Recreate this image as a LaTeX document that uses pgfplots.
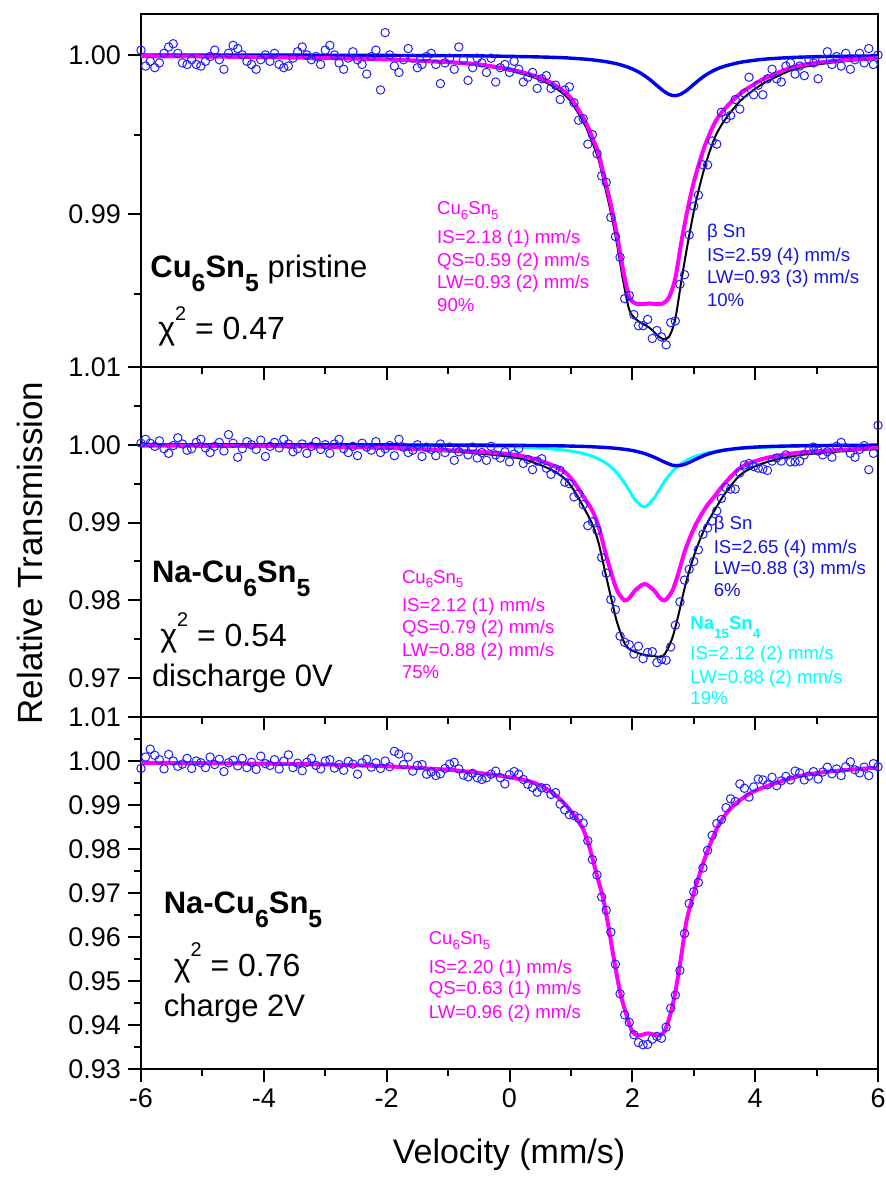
\documentclass[border=0pt]{standalone}
\usepackage{fontspec}
\setmainfont{Liberation Sans}
\usepackage{graphicx}
\usepackage{pgfplots}
\pgfplotsset{compat=1.18}

\definecolor{mag}{RGB}{255,0,255}
\definecolor{bln}{RGB}{0,0,235}
\definecolor{cyn}{RGB}{0,255,255}
\definecolor{pts}{RGB}{30,30,255}
\definecolor{btx}{RGB}{20,20,230}

% lowered / raised small figures for formulas
\newcommand{\dn}[2][0.3em]{\raisebox{-#1}{\scalebox{0.72}{#2}}}
\newcommand{\bdn}[1]{\raisebox{-0.45em}{\scalebox{0.8}{#1}}}
\newcommand{\up}[1]{\raisebox{0.62em}{\scalebox{0.62}{#1}}}

\pgfplotsset{
  panel/.style={
    scale only axis, width=368.5pt,
    xmin=-6, xmax=6,
    xtick={-6,-4,-2,0,2,4,6}, minor xtick={-5,-3,-1,1,3,5},
    tick align=outside, xtick pos=left, ytick pos=left,
    major tick length=6.5pt, minor tick length=3.5pt,
    axis line style={line width=1.2pt},
    tick style={black, line width=1pt},
    tick label style={font=\fontsize{13.5}{16}\selectfont},
    /pgf/number format/assume math mode=true,
    yticklabel style={/pgf/number format/fixed,
      /pgf/number format/fixed zerofill, /pgf/number format/precision=2},
  },
  dat/.style={only marks, mark=o, mark size=2.1pt, color=pts, line width=0.5pt},
}

\begin{document}
\begin{tikzpicture}[ann/.style={anchor=base west, inner sep=0pt, font=\fontsize{9.3}{11}\selectfont},
  big/.style={anchor=base west, inner sep=0pt, font=\fontsize{15.5}{18}\selectfont},
  chi/.style={anchor=base west, inner sep=0pt, font=\fontsize{16}{19}\selectfont}]

% ---------------- panel 1: pristine ----------------
\begin{axis}[panel, at={(0,351pt)}, anchor=south west, height=176.5pt,
  ymin=0.98041, ymax=1.00257, ytick={0.99,1.00}, minor ytick={0.985,0.995},
  xticklabels={}]
\addplot[dat] coordinates {
(-6,1.0003) (-5.925,0.9993) (-5.85,0.9996) (-5.775,0.9992) (-5.7,0.9995) (-5.625,1.0001) (-5.55,1.0005) (-5.475,1.0007)
(-5.4,1.0001) (-5.325,0.9995) (-5.25,0.9994) (-5.175,0.9997) (-5.1,0.9994) (-5.025,0.9993) (-4.95,0.9996) (-4.875,0.9999)
(-4.8,1.0003) (-4.725,0.9997) (-4.65,0.9991) (-4.575,1.0001) (-4.5,1.0006) (-4.425,1.0004) (-4.35,1.0000) (-4.275,0.9996)
(-4.2,0.9994) (-4.125,0.9991) (-4.05,0.9997) (-3.975,1.0000) (-3.9,0.9996) (-3.825,1.0001) (-3.75,0.9994) (-3.675,0.9992)
(-3.6,0.9993) (-3.525,0.9998) (-3.45,1.0002) (-3.375,1.0005) (-3.3,1.0000) (-3.225,0.9997) (-3.15,0.9999) (-3.075,0.9994)
(-3,1.0003) (-2.925,1.0006) (-2.85,1.0000) (-2.775,0.9995) (-2.7,0.9991) (-2.625,0.9998) (-2.55,1.0002) (-2.475,0.9997)
(-2.4,0.9994) (-2.325,0.9988) (-2.25,0.9999) (-2.175,1.0003) (-2.1,0.9978) (-2.025,1.0014) (-1.95,1.0000) (-1.875,0.9993)
(-1.8,0.9989) (-1.725,0.9997) (-1.65,1.0004) (-1.575,0.9998) (-1.5,0.9992) (-1.425,0.9994) (-1.35,0.9999) (-1.275,1.0001)
(-1.2,0.9994) (-1.125,0.9982) (-1.05,0.9995) (-0.975,0.9998) (-0.9,0.9991) (-0.825,1.0005) (-0.75,0.9997) (-0.675,0.9984)
(-0.6,0.9992) (-0.525,0.9998) (-0.45,0.9995) (-0.375,0.9989) (-0.3,0.9998) (-0.225,0.9983) (-0.15,0.9992) (-0.075,0.9994)
(0,0.9989) (0.075,0.9996) (0.15,0.9991) (0.225,0.9983) (0.3,0.9986) (0.375,0.9989) (0.45,0.9979) (0.525,0.9985)
(0.6,0.9987) (0.675,0.9979) (0.75,0.9981) (0.825,0.9972) (0.9,0.9978) (0.975,0.9980) (1.05,0.9970) (1.125,0.9959)
(1.2,0.9960) (1.275,0.9944) (1.35,0.9950) (1.425,0.9938) (1.5,0.9924) (1.575,0.9920) (1.65,0.9898) (1.725,0.9886)
(1.8,0.9873) (1.875,0.9847) (1.95,0.9849) (2.025,0.9837) (2.1,0.9830) (2.175,0.9830) (2.25,0.9834) (2.325,0.9822)
(2.4,0.9827) (2.475,0.9823) (2.55,0.9818) (2.625,0.9832) (2.7,0.9833) (2.775,0.9856) (2.85,0.9862) (2.925,0.9887)
(3,0.9905) (3.075,0.9912) (3.15,0.9931) (3.225,0.9931) (3.3,0.9946) (3.375,0.9944) (3.45,0.9964) (3.525,0.9960)
(3.6,0.9962) (3.675,0.9972) (3.75,0.9966) (3.825,0.9976) (3.9,0.9986) (3.975,0.9975) (4.05,0.9981) (4.125,0.9975)
(4.2,0.9985) (4.275,0.9991) (4.35,0.9985) (4.425,0.9983) (4.5,0.9993) (4.575,0.9995) (4.65,0.9988) (4.725,0.9993)
(4.8,0.9987) (4.875,0.9997) (4.95,0.9995) (5.025,0.9985) (5.1,0.9997) (5.175,1.0002) (5.25,0.9994) (5.325,0.9999)
(5.4,0.9993) (5.475,1.0001) (5.55,0.9991) (5.625,0.9997) (5.7,1.0001) (5.775,0.9995) (5.85,1.0004) (5.925,0.9994)
(6,1.0000)};
% total fit
\addplot[black, line width=1pt, smooth, tension=0.5] coordinates {
(-6,0.99991) (-5,0.99989) (-4,0.99985) (-3,0.99978) (-2,0.99969) (-1,0.99950) (-0.5,0.99934) (0,0.99901)
(0.4,0.99858) (0.7,0.99805) (0.95,0.99730) (1.1,0.99647) (1.25,0.99543) (1.35,0.99449) (1.45,0.99344) (1.55,0.99179)
(1.65,0.99012) (1.75,0.98814) (1.85,0.98583) (1.95,0.98400) (2.05,0.98343) (2.15,0.98317) (2.28,0.98287) (2.4,0.98243)
(2.5,0.98216) (2.6,0.98232) (2.7,0.98344) (2.8,0.98586) (2.9,0.98812) (3,0.99015) (3.1,0.99182) (3.2,0.99325)
(3.35,0.99487) (3.5,0.99589) (3.75,0.99708) (4,0.99787) (4.2,0.99835) (4.6,0.99906) (5,0.99939) (5.5,0.99962) (6,0.99974)};
% beta Sn
\addplot[bln, line width=1.7pt, smooth, tension=0.5] coordinates {
(-6,0.99999) (-5,0.99999) (-4,0.99999) (-3,0.99998) (-2,0.99997) (-1,0.99995) (-0.5,0.99994) (0,0.99991)
(0.4,0.99988) (0.7,0.99985) (0.95,0.99981) (1.1,0.99977) (1.25,0.99973) (1.35,0.99969) (1.45,0.99964) (1.55,0.99959)
(1.65,0.99952) (1.75,0.99944) (1.85,0.99933) (1.95,0.99920) (2.05,0.99903) (2.15,0.99882) (2.28,0.99847) (2.4,0.99808)
(2.5,0.99776) (2.6,0.99752) (2.7,0.99744) (2.8,0.99756) (2.9,0.99782) (3,0.99815) (3.1,0.99847) (3.2,0.99875)
(3.35,0.99907) (3.5,0.99929) (3.75,0.99953) (4,0.99967) (4.2,0.99975) (4.6,0.99984) (5,0.99989) (5.5,0.99992) (6,0.99994)};
% Cu6Sn5
\addplot[mag, line width=2pt, smooth, tension=0.5] coordinates {
(-6,0.99992) (-5,0.99990) (-4,0.99986) (-3,0.99980) (-2,0.99972) (-1,0.99955) (-0.5,0.99940) (0,0.99910)
(0.4,0.99870) (0.7,0.99820) (0.95,0.99750) (1.1,0.99670) (1.25,0.99570) (1.35,0.99480) (1.45,0.99380) (1.55,0.99220)
(1.65,0.99060) (1.75,0.98870) (1.85,0.98650) (1.95,0.98480) (2.05,0.98440) (2.15,0.98435) (2.28,0.98440) (2.4,0.98435)
(2.5,0.98440) (2.6,0.98480) (2.7,0.98600) (2.8,0.98830) (2.9,0.99030) (3,0.99200) (3.1,0.99335) (3.2,0.99450)
(3.35,0.99580) (3.5,0.99660) (3.75,0.99755) (4,0.99820) (4.2,0.99860) (4.6,0.99922) (5,0.99950) (5.5,0.99970) (6,0.99980)};
\end{axis}

% ---------------- panel 2: discharge 0 V ----------------
\begin{axis}[panel, at={(0,176pt)}, anchor=south west, height=175pt,
  ymin=0.965, ymax=1.01, ytick={0.97,0.98,0.99,1.00,1.01},
  minor ytick={0.975,0.985,0.995,1.005}, xticklabels={}]
\addplot[dat] coordinates {
(-6,1.0002) (-5.925,1.0007) (-5.85,1.0002) (-5.775,0.9998) (-5.7,1.0005) (-5.625,0.9995) (-5.55,0.9989) (-5.475,0.9999)
(-5.4,1.0009) (-5.325,1.0001) (-5.25,0.9993) (-5.175,0.9995) (-5.1,1.0003) (-5.025,1.0007) (-4.95,0.9996) (-4.875,0.9990)
(-4.8,0.9998) (-4.725,1.0003) (-4.65,0.9992) (-4.575,1.0013) (-4.5,1.0002) (-4.425,0.9984) (-4.35,0.9995) (-4.275,1.0004)
(-4.2,1.0000) (-4.125,0.9994) (-4.05,1.0006) (-3.975,0.9985) (-3.9,0.9998) (-3.825,1.0003) (-3.75,0.9996) (-3.675,1.0007)
(-3.6,1.0001) (-3.525,0.9991) (-3.45,0.9995) (-3.375,1.0001) (-3.3,0.9989) (-3.225,0.9998) (-3.15,1.0004) (-3.075,0.9994)
(-3,1.0000) (-2.925,0.9989) (-2.85,1.0001) (-2.775,1.0007) (-2.7,0.9995) (-2.625,0.9990) (-2.55,0.9998) (-2.475,0.9986)
(-2.4,1.0002) (-2.325,0.9997) (-2.25,0.9993) (-2.175,1.0004) (-2.1,0.9990) (-2.025,0.9995) (-1.95,0.9999) (-1.875,0.9986)
(-1.8,1.0007) (-1.725,0.9997) (-1.65,0.9990) (-1.575,0.9993) (-1.5,1.0000) (-1.425,0.9985) (-1.35,0.9997) (-1.275,0.9994)
(-1.2,0.9986) (-1.125,1.0001) (-1.05,0.9990) (-0.975,0.9997) (-0.9,0.9980) (-0.825,0.9991) (-0.75,0.9995) (-0.675,0.9987)
(-0.6,0.9997) (-0.525,0.9983) (-0.45,0.9990) (-0.375,0.9980) (-0.3,0.9998) (-0.225,0.9987) (-0.15,0.9983) (-0.075,0.9991)
(0,0.9978) (0.075,0.9988) (0.15,0.9995) (0.225,0.9976) (0.3,0.9981) (0.375,0.9968) (0.45,0.9979) (0.525,0.9982)
(0.6,0.9970) (0.675,0.9962) (0.75,0.9969) (0.825,0.9967) (0.9,0.9952) (0.975,0.9950) (1.05,0.9933) (1.125,0.9937)
(1.2,0.9923) (1.275,0.9896) (1.35,0.9901) (1.425,0.9890) (1.5,0.9855) (1.575,0.9835) (1.65,0.9801) (1.725,0.9788)
(1.8,0.9754) (1.875,0.9746) (1.95,0.9743) (2.025,0.9731) (2.1,0.9741) (2.175,0.9725) (2.25,0.9733) (2.325,0.9734)
(2.4,0.9720) (2.475,0.9724) (2.55,0.9723) (2.625,0.9740) (2.7,0.9768) (2.775,0.9798) (2.85,0.9826) (2.925,0.9840)
(3,0.9850) (3.075,0.9865) (3.15,0.9885) (3.225,0.9893) (3.3,0.9902) (3.375,0.9915) (3.45,0.9931) (3.525,0.9945)
(3.6,0.9943) (3.675,0.9943) (3.75,0.9964) (3.825,0.9974) (3.9,0.9976) (3.975,0.9972) (4.05,0.9970) (4.125,0.9969)
(4.2,0.9967) (4.275,0.9979) (4.35,0.9983) (4.425,0.9979) (4.5,0.9987) (4.575,0.9978) (4.65,0.9978) (4.725,0.9979)
(4.8,0.9987) (4.875,0.9993) (4.95,0.9997) (5.025,0.9992) (5.1,0.9987) (5.175,0.9991) (5.25,0.9984) (5.325,0.9998)
(5.4,1.0003) (5.475,0.9996) (5.55,0.9989) (5.625,0.9984) (5.7,0.9994) (5.775,0.9999) (5.85,0.9968) (5.925,0.9989)
(6,1.0025)};
\addplot[black, line width=1pt, smooth, tension=0.5] coordinates {
(-6,0.99987) (-5,0.99984) (-4,0.99978) (-3,0.99969) (-2,0.99950) (-1,0.99914) (-0.5,0.99888) (0,0.99847)
(0.3,0.99797) (0.66,0.99687) (0.9,0.99564) (1.05,0.99414) (1.2,0.99206) (1.35,0.98976) (1.45,0.98739) (1.55,0.98391)
(1.65,0.98047) (1.75,0.97721) (1.87,0.97454) (1.95,0.97374) (2.05,0.97335) (2.2,0.97297) (2.35,0.97283) (2.45,0.97273)
(2.53,0.97310) (2.65,0.97514) (2.75,0.97810) (2.85,0.98153) (2.95,0.98439) (3.05,0.98678) (3.2,0.98962) (3.32,0.99132)
(3.5,0.99363) (3.75,0.99607) (4,0.99723) (4.3,0.99802) (4.73,0.99868) (5.3,0.99909) (6,0.99946)};
% Na15Sn4
\addplot[cyn, line width=1.5pt, smooth, tension=0.5] coordinates {
(-6,0.99998) (-5,0.99998) (-4,0.99997) (-3,0.99995) (-2,0.99993) (-1,0.99988) (-0.5,0.99983) (0,0.99974)
(0.3,0.99966) (0.66,0.99949) (0.9,0.99930) (1.05,0.99912) (1.2,0.99888) (1.35,0.99852) (1.45,0.99819) (1.55,0.99775)
(1.65,0.99717) (1.75,0.99638) (1.87,0.99512) (1.95,0.99412) (2.05,0.99287) (2.2,0.99200) (2.35,0.99310) (2.45,0.99438)
(2.53,0.99536) (2.65,0.99656) (2.75,0.99730) (2.85,0.99785) (2.95,0.99827) (3.05,0.99858) (3.2,0.99892) (3.32,0.99911)
(3.5,0.99932) (3.75,0.99951) (4,0.99963) (4.3,0.99972) (4.73,0.99981) (5.3,0.99987) (6,0.99991)};
% beta Sn
\addplot[bln, line width=1.7pt, smooth, tension=0.5] coordinates {
(-6,0.99999) (-5,0.99999) (-4,0.99999) (-3,0.99998) (-2,0.99998) (-1,0.99996) (-0.5,0.99995) (0,0.99993)
(0.3,0.99991) (0.66,0.99988) (0.9,0.99985) (1.05,0.99982) (1.2,0.99979) (1.35,0.99974) (1.45,0.99970) (1.55,0.99966)
(1.65,0.99960) (1.75,0.99953) (1.87,0.99942) (1.95,0.99933) (2.05,0.99918) (2.2,0.99887) (2.35,0.99842) (2.45,0.99805)
(2.53,0.99775) (2.65,0.99738) (2.75,0.99731) (2.85,0.99748) (2.95,0.99782) (3.05,0.99821) (3.2,0.99871) (3.32,0.99901)
(3.5,0.99931) (3.75,0.99956) (4,0.99970) (4.3,0.99980) (4.73,0.99987) (5.3,0.99992) (6,0.99995)};
% Cu6Sn5
\addplot[mag, line width=2pt, smooth, tension=0.5] coordinates {
(-6,0.99990) (-5,0.99987) (-4,0.99983) (-3,0.99975) (-2,0.99960) (-1,0.99930) (-0.5,0.99910) (0,0.99880)
(0.3,0.99840) (0.66,0.99750) (0.9,0.99650) (1.05,0.99520) (1.2,0.99340) (1.35,0.99150) (1.45,0.98950) (1.55,0.98650)
(1.65,0.98370) (1.75,0.98130) (1.87,0.98000) (1.95,0.98030) (2.05,0.98130) (2.2,0.98210) (2.35,0.98130) (2.45,0.98030)
(2.53,0.98000) (2.65,0.98120) (2.75,0.98350) (2.85,0.98620) (2.95,0.98830) (3.05,0.99000) (3.2,0.99200) (3.32,0.99320)
(3.5,0.99500) (3.75,0.99700) (4,0.99790) (4.3,0.99850) (4.73,0.99900) (5.3,0.99930) (6,0.99960)};
\end{axis}

% ---------------- panel 3: charge 2 V ----------------
\begin{axis}[panel, at={(0,0)}, anchor=south west, height=176pt,
  ymin=0.93, ymax=1.01,
  ytick={0.93,0.94,0.95,0.96,0.97,0.98,0.99,1.00,1.01},
  minor ytick={0.935,0.945,0.955,0.965,0.975,0.985,0.995,1.005}]
\addplot[dat] coordinates {
(-6,0.9983) (-5.925,1.0009) (-5.85,1.0027) (-5.775,1.0013) (-5.7,1.0003) (-5.625,0.9982) (-5.55,1.0015) (-5.475,1.0000)
(-5.4,0.9988) (-5.325,0.9993) (-5.25,1.0006) (-5.175,0.9983) (-5.1,1.0000) (-5.025,0.9996) (-4.95,0.9985) (-4.875,1.0009)
(-4.8,0.9992) (-4.725,1.0004) (-4.65,0.9976) (-4.575,0.9996) (-4.5,1.0002) (-4.425,0.9989) (-4.35,1.0006) (-4.275,0.9985)
(-4.2,0.9997) (-4.125,0.9981) (-4.05,1.0011) (-3.975,0.9994) (-3.9,0.9990) (-3.825,1.0003) (-3.75,0.9982) (-3.675,1.0000)
(-3.6,1.0014) (-3.525,0.9985) (-3.45,0.9995) (-3.375,0.9978) (-3.3,0.9997) (-3.225,1.0006) (-3.15,0.9990) (-3.075,0.9982)
(-3,1.0000) (-2.925,1.0003) (-2.85,0.9984) (-2.775,0.9992) (-2.7,0.9979) (-2.625,0.9999) (-2.55,0.9993) (-2.475,0.9970)
(-2.4,0.9996) (-2.325,1.0004) (-2.25,0.9986) (-2.175,0.9996) (-2.1,0.9983) (-2.025,1.0000) (-1.95,0.9987) (-1.875,1.0022)
(-1.8,1.0016) (-1.725,0.9992) (-1.65,1.0009) (-1.575,0.9977) (-1.5,0.9990) (-1.425,0.9992) (-1.35,0.9970) (-1.275,0.9975)
(-1.2,0.9967) (-1.125,0.9971) (-1.05,0.9983) (-0.975,0.9993) (-0.9,0.9997) (-0.825,0.9982) (-0.75,0.9968) (-0.675,0.9964)
(-0.6,0.9972) (-0.525,0.9962) (-0.45,0.9958) (-0.375,0.9962) (-0.3,0.9970) (-0.225,0.9977) (-0.15,0.9962) (-0.075,0.9948)
(0,0.9969) (0.075,0.9976) (0.15,0.9970) (0.225,0.9958) (0.3,0.9947) (0.375,0.9940) (0.45,0.9929) (0.525,0.9939)
(0.6,0.9938) (0.675,0.9924) (0.75,0.9928) (0.825,0.9902) (0.9,0.9889) (0.975,0.9878) (1.05,0.9876) (1.125,0.9870)
(1.2,0.9859) (1.275,0.9819) (1.35,0.9776) (1.425,0.9741) (1.5,0.9691) (1.575,0.9661) (1.65,0.9611) (1.725,0.9538)
(1.8,0.9471) (1.875,0.9423) (1.95,0.9406) (2.025,0.9378) (2.1,0.9360) (2.175,0.9355) (2.25,0.9356) (2.325,0.9368)
(2.4,0.9374) (2.475,0.9370) (2.55,0.9395) (2.625,0.9438) (2.7,0.9468) (2.775,0.9524) (2.85,0.9608) (2.925,0.9676)
(3,0.9703) (3.075,0.9724) (3.15,0.9757) (3.225,0.9797) (3.3,0.9831) (3.375,0.9858) (3.45,0.9867) (3.525,0.9894)
(3.6,0.9914) (3.675,0.9908) (3.75,0.9948) (3.825,0.9938) (3.9,0.9918) (3.975,0.9941) (4.05,0.9959) (4.125,0.9957)
(4.2,0.9946) (4.275,0.9963) (4.35,0.9944) (4.425,0.9955) (4.5,0.9965) (4.575,0.9957) (4.65,0.9977) (4.725,0.9973)
(4.8,0.9957) (4.875,0.9966) (4.95,0.9976) (5.025,0.9959) (5.1,0.9975) (5.175,0.9986) (5.25,0.9971) (5.325,0.9982)
(5.4,0.9967) (5.475,0.9987) (5.55,0.9998) (5.625,0.9980) (5.7,0.9973) (5.775,0.9986) (5.85,0.9967) (5.925,0.9994)
(6,0.9987)};
\addplot[mag, line width=2pt, smooth, tension=0.5] coordinates {
(-6,0.9996) (-5,0.9995) (-4,0.9994) (-3,0.9992) (-2,0.9988) (-1,0.9980) (-0.5,0.9973) (0,0.9963)
(0.39,0.9951) (0.7,0.9928) (0.93,0.9898) (1.1,0.9867) (1.2,0.9845) (1.3,0.9805) (1.42,0.9742) (1.52,0.9690)
(1.61,0.9625) (1.7,0.9550) (1.8,0.9475) (1.91,0.9420) (2,0.9385) (2.1,0.9376) (2.26,0.9381) (2.42,0.9376)
(2.52,0.9385) (2.61,0.9420) (2.7,0.9475) (2.8,0.9560) (2.88,0.9635) (3,0.9700) (3.1,0.9745) (3.21,0.9790)
(3.37,0.9845) (3.5,0.9875) (3.64,0.9898) (3.9,0.9925) (4.19,0.9943) (4.73,0.9966) (5.27,0.9977) (6,0.9985)};
\end{axis}

% ---------------- annotations ----------------
% panel 1
\node[big] at (4.5pt,395.5pt) {\textbf{Cu\bdn{6}Sn\bdn{5}} pristine};
\node[chi] at (8.5pt,364.5pt) {χ\up{2} = 0.47};
\begin{scope}[every node/.append style={ann, text=mag}]
\node at (147.9pt,427pt) {Cu\dn[0.25em]{6}Sn\dn[0.25em]{5}};
\node at (147.9pt,412.9pt) {IS=2.18 (1) mm/s};
\node at (147.9pt,401.2pt) {QS=0.59 (2) mm/s};
\node at (147.9pt,390.4pt) {LW=0.93 (2) mm/s};
\node at (147.9pt,378.7pt) {90\%};
\end{scope}
\begin{scope}[every node/.append style={ann, text=btx}]
\node at (282.8pt,415.5pt) {β Sn};
\node at (282.8pt,403.7pt) {IS=2.59 (4) mm/s};
\node at (282.8pt,392.9pt) {LW=0.93 (3) mm/s};
\node at (282.8pt,381.2pt) {10\%};
\end{scope}
% panel 2
\node[big] at (5.3pt,243pt) {\textbf{Na-Cu\bdn{6}Sn\bdn{5}}};
\node[chi] at (9.5pt,211.2pt) {χ\up{2} = 0.54};
\node[big] at (5.3pt,191.2pt) {discharge 0V};
\begin{scope}[every node/.append style={ann, text=mag}]
\node at (130.3pt,242.9pt) {Cu\dn[0.25em]{6}Sn\dn[0.25em]{5}};
\node at (130.3pt,228.7pt) {IS=2.12 (1) mm/s};
\node at (130.3pt,217.9pt) {QS=0.79 (2) mm/s};
\node at (130.3pt,206.2pt) {LW=0.88 (2) mm/s};
\node at (130.3pt,195.4pt) {75\%};
\end{scope}
\begin{scope}[every node/.append style={ann, text=btx}]
\node at (286.2pt,269.5pt) {β Sn};
\node at (286.2pt,257.9pt) {IS=2.65 (4) mm/s};
\node at (286.2pt,247pt) {LW=0.88 (3) mm/s};
\node at (286.2pt,236.2pt) {6\%};
\end{scope}
\begin{scope}[every node/.append style={ann, text=cyn}]
\node at (274.5pt,219.5pt) {\textbf{Na\dn[0.45em]{15}Sn\dn[0.45em]{4}}};
\node at (274.5pt,204.5pt) {IS=2.12 (2) mm/s};
\node at (274.5pt,192.9pt) {LW=0.88 (2) mm/s};
\node at (274.5pt,182pt) {19\%};
\end{scope}
% panel 3
\node[big] at (11.2pt,77.9pt) {\textbf{Na-Cu\bdn{6}Sn\bdn{5}}};
\node[chi] at (16.2pt,46.2pt) {χ\up{2} = 0.76};
\node[big] at (11.2pt,26.2pt) {charge 2V};
\begin{scope}[every node/.append style={ann, text=mag}]
\node at (143.7pt,62pt) {Cu\dn[0.25em]{6}Sn\dn[0.25em]{5}};
\node at (143.7pt,47.9pt) {IS=2.20 (1) mm/s};
\node at (143.7pt,37pt) {QS=0.63 (1) mm/s};
\node at (143.7pt,25.4pt) {LW=0.96 (2) mm/s};
\end{scope}

% axis titles
\node[rotate=90, font=\fontsize{17.5}{21}\selectfont] at (-55.5pt,258pt) {Relative Transmission};
\node[font=\fontsize{17}{20}\selectfont] at (184pt,-43pt) {Velocity (mm/s)};

\pgfresetboundingbox
\path[use as bounding box] (-70.5pt,-54pt) rectangle (372.5pt,534.5pt);
\end{tikzpicture}
\end{document}
